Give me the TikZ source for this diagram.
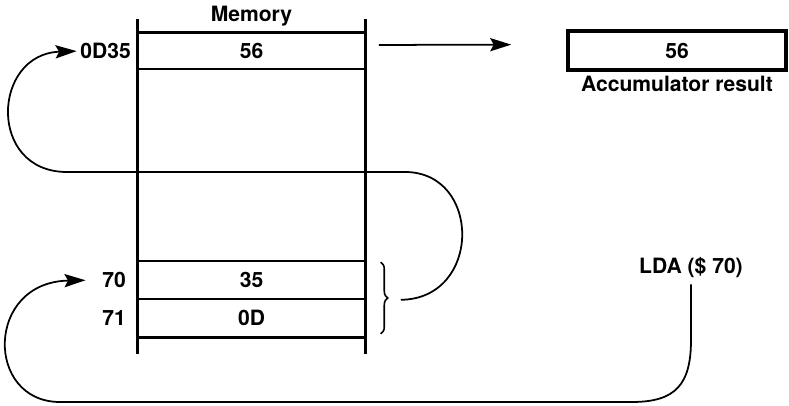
\documentclass[tikz,border=0pt]{standalone}
\usepackage{fontspec}
\setmainfont{TeX Gyre Heros}
\usetikzlibrary{positioning,arrows.meta,decorations.pathreplacing}

\begin{document}
\begin{tikzpicture}[x=0.02cm,y=0.02cm,font=\bfseries\fontsize{12}{14}\selectfont]
	% Estilos
	\tikzstyle{cell} = [rectangle, minimum width=4.54cm, draw=black, line width=0.9pt, inner sep=0pt, text centered]
	\tikzstyle{addr} = [inner sep=0pt]
	\tikzstyle{wall} = [line width=1.8pt]
	\tikzstyle{accbox} = [rectangle, minimum width=4.36cm, minimum height=0.78cm, draw=black, line width=2pt]
	\tikzstyle{link} = [line width=0.9pt]
	\tikzstyle{arrow} = [line width=1pt, -{Stealth[length=12pt, width=7.5pt, inset=2pt]}]
	\useasboundingbox (0,0) rectangle (789,406);
	% Memória
	\node (c56) [cell, minimum height=0.72cm] at (251.5,355) {56};
	\node (c35) [cell, minimum height=0.76cm] at (251.5,126) {35};
	\node (c0D) [cell, minimum height=0.76cm, below of=c35, node distance=0.76cm] {0D};
	\node (mem) [above=0.12cm of c56, inner sep=0pt] {Memory};
	\draw [wall] ([yshift=0.26cm]c56.north west) -- ([yshift=-0.32cm]c0D.south west);
	\draw [wall] ([yshift=0.26cm]c56.north east) -- ([yshift=-0.32cm]c0D.south east);
	\draw [wall] (c56.north west) -- (c56.north east);
	\draw [wall] (c0D.south west) -- (c0D.south east);
	% Endereços
	\node (a0D35) [addr, left=0.12cm of c56] {0D35};
	\node (a70) [addr, left=0.22cm of c35] {70};
	\node (a71) [addr, left=0.22cm of c0D] {71};
	% Acumulador e instrução
	\node (acc) [accbox] at (677,355.5) {56};
	\node (accl) [below=0.08cm of acc, inner sep=0pt] {Accumulator result};
	\node (lda) at (691,138) {LDA (\$ 70)};
	% Chave
	\draw [link, decorate, decoration={brace, amplitude=4pt}] ([xshift=0.3cm, yshift=-0.04cm]c35.north east) -- ([xshift=0.3cm, yshift=0.08cm]c0D.south east);
	\coordinate (bt) at ([xshift=0.7cm]c35.south east);
	% Setas
	\draw [arrow, shorten <=0.26cm, shorten >=1.1cm] ([yshift=0.12cm]c56.east) -- ([yshift=0.12cm]acc.west);
	\draw [arrow, shorten >=0.07cm] (bt) .. controls (482,107) and (482,234) .. (405,234) -- (67,234) .. controls (-13,234) and (-8,352) .. (a0D35.west);
	\draw [arrow, shorten >=0.33cm] (lda.south) -- (691,66) .. controls (691,22) and (676,4) .. (632,4) -- (60,4) .. controls (-15,4) and (-15,124) .. (a70.west);
\end{tikzpicture}
\end{document}
